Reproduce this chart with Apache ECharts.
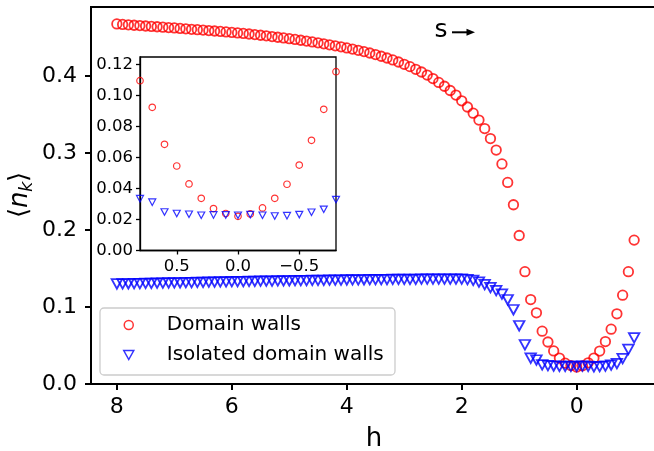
<!DOCTYPE html>
<html>
<head>
<meta charset="utf-8">
<script src="https://cdn.jsdelivr.net/npm/echarts@6/dist/echarts.min.js"></script>
<style>
  html, body { margin: 0; padding: 0; background: #fff; }
  #chart { width: 654px; height: 451px; }
</style>
</head>
<body>
<div id="chart"></div>
<script>
// main panel: h from 8 down to -1
const hMain = [
  8.0, 7.9, 7.8, 7.7, 7.6, 7.5, 7.4, 7.3, 7.2, 7.1,
  7.0, 6.9, 6.8, 6.7, 6.6, 6.5, 6.4, 6.3, 6.2, 6.1,
  6.0, 5.9, 5.8, 5.7, 5.6, 5.5, 5.4, 5.3, 5.2, 5.1,
  5.0, 4.9, 4.8, 4.7, 4.6, 4.5, 4.4, 4.3, 4.2, 4.1,
  4.0, 3.9, 3.8, 3.7, 3.6, 3.5, 3.4, 3.3, 3.2, 3.1,
  3.0, 2.9, 2.8, 2.7, 2.6, 2.5, 2.4, 2.3, 2.2, 2.1,
  2.0, 1.9, 1.8, 1.7, 1.6, 1.5, 1.4, 1.3, 1.2, 1.1,
  1.0, 0.9, 0.8, 0.7, 0.6, 0.5, 0.4, 0.3, 0.2, 0.1,
  0.0, -0.1, -0.2, -0.3, -0.4, -0.5, -0.6, -0.7, -0.8, -0.9,
  -1.0
];
const domainWalls = [
  0.4680, 0.4674, 0.4668, 0.4663, 0.4658, 0.4653, 0.4648, 0.4643, 0.4638, 0.4633,
  0.4628, 0.4622, 0.4616, 0.4610, 0.4605, 0.4600, 0.4594, 0.4588, 0.4582, 0.4576,
  0.4570, 0.4563, 0.4556, 0.4549, 0.4541, 0.4533, 0.4525, 0.4516, 0.4507, 0.4498,
  0.4488, 0.4478, 0.4468, 0.4457, 0.4446, 0.4434, 0.4422, 0.4409, 0.4396, 0.4382,
  0.4368, 0.4353, 0.4337, 0.4320, 0.4302, 0.4282, 0.4260, 0.4237, 0.4212, 0.4185,
  0.4155, 0.4125, 0.4090, 0.4055, 0.4015, 0.3970, 0.3920, 0.3870, 0.3815, 0.3755,
  0.3680, 0.3600, 0.3520, 0.3430, 0.3320, 0.3190, 0.3040, 0.2860, 0.2620, 0.2330,
  0.1930, 0.1460, 0.1097, 0.0925, 0.0686, 0.0546, 0.0430, 0.0337, 0.0271, 0.0239,
  0.0221, 0.0236, 0.0275, 0.0337, 0.0428, 0.0552, 0.0712, 0.0912, 0.1155, 0.1460,
  0.1870
];
const isolatedWalls = [
  0.1300, 0.1301, 0.1303, 0.1304, 0.1306, 0.1307, 0.1309, 0.1310, 0.1312, 0.1313,
  0.1315, 0.1316, 0.1318, 0.1319, 0.1321, 0.1322, 0.1324, 0.1325, 0.1327, 0.1328,
  0.1330, 0.1331, 0.1332, 0.1334, 0.1335, 0.1336, 0.1337, 0.1338, 0.1340, 0.1341,
  0.1342, 0.1343, 0.1344, 0.1345, 0.1346, 0.1347, 0.1348, 0.1349, 0.1350, 0.1351,
  0.1352, 0.1353, 0.1354, 0.1355, 0.1356, 0.1357, 0.1357, 0.1358, 0.1359, 0.1359,
  0.1360, 0.1361, 0.1361, 0.1362, 0.1362, 0.1363, 0.1363, 0.1363, 0.1363, 0.1363,
  0.1362, 0.1358, 0.1347, 0.1325, 0.1292, 0.1252, 0.1213, 0.1168, 0.1095, 0.0965,
  0.0757, 0.0510, 0.0335, 0.0312, 0.0249, 0.0239, 0.0234, 0.0228, 0.0230, 0.0230,
  0.0228, 0.0232, 0.0228, 0.0223, 0.0225, 0.0232, 0.0247, 0.0266, 0.0329, 0.0450,
  0.0600
];

// inset: zoom around h = 0
const hInset = [0.8, 0.7, 0.6, 0.5, 0.4, 0.3, 0.2, 0.1, 0.0, -0.1, -0.2, -0.3, -0.4, -0.5, -0.6, -0.7, -0.8];
const domainInset = [0.1097, 0.0925, 0.0686, 0.0546, 0.0430, 0.0337, 0.0271, 0.0239, 0.0221, 0.0236, 0.0275, 0.0337, 0.0428, 0.0552, 0.0712, 0.0912, 0.1155];
const isolatedInset = [0.0335, 0.0312, 0.0249, 0.0239, 0.0234, 0.0228, 0.0230, 0.0230, 0.0228, 0.0232, 0.0228, 0.0223, 0.0225, 0.0232, 0.0247, 0.0266, 0.0329];

const xTicksMain = [8, 6, 4, 2, 0];
const yTicksMain = [0, 0.1, 0.2, 0.3, 0.4];
const xTicksInset = [0.5, 0, -0.5];
const yTicksInset = [0, 0.02, 0.04, 0.06, 0.08, 0.10, 0.12];

const FONT = 'DejaVu Sans';
const RED = '#ff0000';
const BLUE = '#0000ff';

const pairs = (xs, ys) => xs.map((x, i) => [x, ys[i]]);
const minus = (s) => s.replace('-', '\u2212');

const chart = echarts.init(document.getElementById('chart'), null, { renderer: 'canvas' });

const option = {
  animation: false,
  backgroundColor: '#fff',
  grid: [
    {
      left: 91, top: 7, right: -6, bottom: 67,
      show: true, borderColor: '#000', borderWidth: 2,
      backgroundColor: 'transparent',
      outerBoundsMode: 'none'
    },
    {
      left: 140, top: 57, width: 196, height: 193.5,
      show: true, borderColor: '#000', borderWidth: 1.3,
      backgroundColor: '#fff', z: 10,
      outerBoundsMode: 'none'
    }
  ],
  xAxis: [
    {
      type: 'value', gridIndex: 0, min: -1.45, max: 8.45, inverse: true,
      axisLine: { show: true, onZero: false, lineStyle: { color: '#000', width: 2 } },
      axisTick: { show: true, length: 6, lineStyle: { color: '#000', width: 2 }, customValues: xTicksMain },
      axisLabel: { customValues: xTicksMain, margin: 12, fontSize: 22, fontFamily: FONT, color: '#000',
        formatter: (v) => minus(String(v)) },
      splitLine: { show: false }
    },
    {
      type: 'value', gridIndex: 1, min: -0.8, max: 0.8, inverse: true, z: 10,
      axisLine: { show: true, onZero: false, lineStyle: { color: '#000', width: 1.3 } },
      axisTick: { show: true, length: 4, lineStyle: { color: '#000', width: 1.3 }, customValues: xTicksInset },
      axisLabel: { customValues: xTicksInset, margin: 8, fontSize: 16.5, fontFamily: FONT, color: '#000',
        formatter: (v) => minus(v.toFixed(1)) },
      splitLine: { show: false }
    }
  ],
  yAxis: [
    {
      type: 'value', gridIndex: 0, min: 0, max: 0.49,
      axisLine: { show: true, onZero: false, lineStyle: { color: '#000', width: 2 } },
      axisTick: { show: true, length: 6, lineStyle: { color: '#000', width: 2 }, customValues: yTicksMain },
      axisLabel: { customValues: yTicksMain, margin: 14, fontSize: 22, fontFamily: FONT, color: '#000',
        formatter: (v) => v.toFixed(1) },
      splitLine: { show: false }
    },
    {
      type: 'value', gridIndex: 1, min: 0, max: 0.125, z: 10,
      axisLine: { show: true, onZero: false, lineStyle: { color: '#000', width: 1.3 } },
      axisTick: { show: true, length: 4, lineStyle: { color: '#000', width: 1.3 }, customValues: yTicksInset },
      axisLabel: { customValues: yTicksInset, margin: 7, fontSize: 16.5, fontFamily: FONT, color: '#000',
        formatter: (v) => v.toFixed(2) },
      splitLine: { show: false }
    }
  ],
  legend: {
    orient: 'vertical', left: 123, top: 315, padding: 0, itemGap: 10,
    itemWidth: 10, itemHeight: 9,
    textStyle: { fontSize: 20, fontFamily: FONT, color: '#000', lineHeight: 20, padding: [0, 0, 0, 28] },
    data: [
      { name: 'Domain walls', icon: 'circle',
        itemStyle: { color: 'transparent', borderColor: RED, borderWidth: 1.5 } },
      { name: 'Isolated domain walls', icon: 'path://M0,0L10,0L5,9Z',
        itemStyle: { color: 'transparent', borderColor: BLUE, borderWidth: 1.5 } }
    ]
  },
  graphic: [
    {
      type: 'rect', z: 3,
      shape: { x: 100, y: 308, width: 295, height: 67, r: 4 },
      style: { fill: 'rgba(255,255,255,0.8)', stroke: '#cccccc', lineWidth: 1.3 }
    },
    {
      type: 'text', x: 374, y: 439,
      style: { text: 'h', fontSize: 26, fontFamily: FONT, fill: '#000', align: 'center', verticalAlign: 'middle' }
    },
    {
      type: 'group', x: 20, y: 196, rotation: Math.PI / 2,
      children: [
        { type: 'text', x: -22, y: 0, style: { text: '\u27e8', fontSize: 26, fontFamily: FONT, fill: '#000', align: 'left', verticalAlign: 'middle' } },
        { type: 'text', x: -12, y: 0, style: { text: 'n', fontSize: 26, fontStyle: 'italic', fontFamily: FONT, fill: '#000', align: 'left', verticalAlign: 'middle' } },
        { type: 'text', x: 4, y: 7, style: { text: 'k', fontSize: 18, fontStyle: 'italic', fontFamily: FONT, fill: '#000', align: 'left', verticalAlign: 'middle' } },
        { type: 'text', x: 14, y: 0, style: { text: '\u27e9', fontSize: 26, fontFamily: FONT, fill: '#000', align: 'left', verticalAlign: 'middle' } }
      ]
    },
    {
      type: 'text', x: 441, y: 30,
      style: { text: 's', fontSize: 25, fontFamily: FONT, fill: '#000', align: 'center', verticalAlign: 'middle' }
    },
    {
      type: 'line',
      shape: { x1: 452, y1: 32.3, x2: 468, y2: 32.3 },
      style: { stroke: '#000', lineWidth: 2 }
    },
    {
      type: 'polygon',
      shape: { points: [[475, 32.3], [466.5, 28.8], [466.5, 35.8]] },
      style: { fill: '#000' }
    }
  ],
  series: [
    {
      name: 'Domain walls', type: 'scatter', xAxisIndex: 0, yAxisIndex: 0,
      symbol: 'circle', symbolSize: 9.5,
      itemStyle: { color: 'transparent', borderColor: RED, borderWidth: 1.8 },
      data: pairs(hMain, domainWalls)
    },
    {
      name: 'Isolated domain walls', type: 'scatter', xAxisIndex: 0, yAxisIndex: 0,
      symbol: 'triangle', symbolRotate: 180, symbolSize: [10.5, 9.5],
      itemStyle: { color: 'transparent', borderColor: BLUE, borderWidth: 1.8 },
      data: pairs(hMain, isolatedWalls)
    },
    {
      name: 'Domain walls', type: 'scatter', xAxisIndex: 1, yAxisIndex: 1, z: 11,
      symbol: 'circle', symbolSize: 6.5,
      itemStyle: { color: 'transparent', borderColor: RED, borderWidth: 1.2 },
      data: pairs(hInset, domainInset)
    },
    {
      name: 'Isolated domain walls', type: 'scatter', xAxisIndex: 1, yAxisIndex: 1, z: 11,
      symbol: 'triangle', symbolRotate: 180, symbolSize: [7, 6.5],
      itemStyle: { color: 'transparent', borderColor: BLUE, borderWidth: 1.2 },
      data: pairs(hInset, isolatedInset)
    }
  ]
};

chart.setOption(option);
</script>
</body>
</html>
